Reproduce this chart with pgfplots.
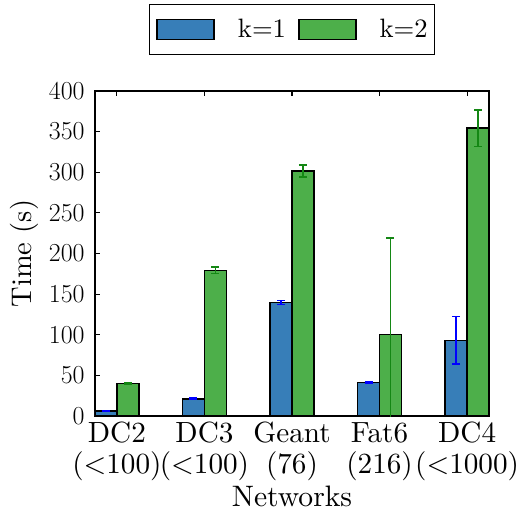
\documentclass[border=0pt]{standalone}
\usepackage{graphicx}
\usepackage{pgfplots}
\pgfplotsset{compat=1.18}
\definecolor{cblue}{RGB}{55,126,184}
\definecolor{cgreen}{RGB}{77,175,74}
\definecolor{eblue}{RGB}{0,0,255}
\definecolor{egreen}{RGB}{20,135,20}
\newcommand\xtl[2]{\scalebox{1.46}{\def\arraystretch{1.03}\begin{tabular}{@{}c@{}}#1\\#2\end{tabular}}}
\begin{document}
\begin{tikzpicture}
\begin{axis}[
  scale only axis, width=197pt, height=162.5pt,
  xmin=-0.25, xmax=4.25, ymin=0, ymax=400,
  xtick={0,1,2,3,4},
  xticklabels={{\xtl{DC2}{($<$100)}},{\xtl{DC3}{($<$100)}},{\xtl{Geant}{(76)}},{\xtl{Fat6}{(216)}},{\xtl{DC4}{($<$1000)}}},
  ytick={0,50,...,400},
  yticklabel={\scalebox{0.75}{\fontsize{17.28}{17.28}\selectfont$\pgfmathprintnumber{\tick}$}},
  tick pos=both, tick align=inside, major tick length=2.5pt,
  axis line style={line width=0.8pt},
  every tick/.style={black, line width=0.6pt},
  xticklabel style={font=\fontsize{10}{10}\selectfont, inner sep=0pt, anchor=north, yshift=-2.4pt},
  yticklabel style={inner sep=0pt, anchor=east, xshift=-5pt},
  label style={font=\fontsize{10}{10}\selectfont},
  xlabel={\scalebox{1.48}{Networks}}, ylabel={\scalebox{1.42}{Time (s)}},
  xlabel style={at={(axis description cs:0.5,0)}, anchor=base, yshift=-45pt},
  ylabel style={at={(axis description cs:-0.18,0.5)}, anchor=center},
  legend columns=2,
  legend style={at={(0.5,1)}, anchor=south, yshift=18pt, draw=black, line width=0.6pt,
    font=\fontsize{10}{10}\selectfont, inner xsep=3.5pt, inner ysep=7pt,
    nodes={inner sep=0pt, anchor=west},
    /tikz/every odd column/.append style={column sep=11.5pt},
    /tikz/column 2/.append style={column sep=6pt}},
]
\addplot[ybar, bar width=0.25, bar shift=-0.125, fill=cblue, draw=black, line width=0.8pt,
  legend image code/.code={\draw[fill=cblue, draw=black, line width=0.8pt] (0pt,-5pt) rectangle (28.5pt,5pt);}]
  coordinates {(0,6.2) (1,21.3) (2,139.9) (3,41.4) (4,93.1)};
\addlegendentry{\scalebox{1.33}{k=1}}
\addplot[ybar, bar width=0.25, bar shift=0.125, fill=cgreen, draw=black, line width=0.8pt,
  legend image code/.code={\draw[fill=cgreen, draw=black, line width=0.8pt] (0pt,-5pt) rectangle (28.5pt,5pt);}]
  coordinates {(0,39.8) (1,179.3) (2,301.5) (3,100.5) (4,354.2)};
\addlegendentry{\scalebox{1.33}{k=2}}
% error bars, drawn at the centres of the bars
\addplot[draw=none, mark=none, forget plot,
  error bars/.cd, y dir=both, y explicit, error mark=|,
  error bar style={draw=eblue, line width=0.8pt},
  error mark options={draw=eblue, mark size=2pt, line width=0.8pt}]
  coordinates {
    (-0.125,6.2) +- (0,0.6)
    (0.875,21.3) +- (0,0.8)
    (1.875,139.9) +- (0,2.5)
    (2.875,41.4) +- (0,0.7)
    (3.875,93.1) +- (0,29.3)
  };
\addplot[draw=none, mark=none, forget plot,
  error bars/.cd, y dir=both, y explicit, error mark=|,
  error bar style={draw=egreen, line width=0.8pt},
  error mark options={draw=egreen, mark size=2pt, line width=0.8pt}]
  coordinates {
    (0.125,39.8) +- (0,0.8)
    (1.125,179.3) +- (0,4)
    (2.125,301.5) +- (0,7.7)
    (3.125,100.5) +- (0,118.5)
    (4.125,354.2) +- (0,22.4)
  };
\coordinate (bl) at (rel axis cs:0,0);
\coordinate (tr) at (rel axis cs:1,1);
\end{axis}
\pgfresetboundingbox
\path ([shift={(-47.5pt,-47.5pt)}]bl) rectangle ([shift={(15.5pt,45.5pt)}]tr);
\end{tikzpicture}
\end{document}
